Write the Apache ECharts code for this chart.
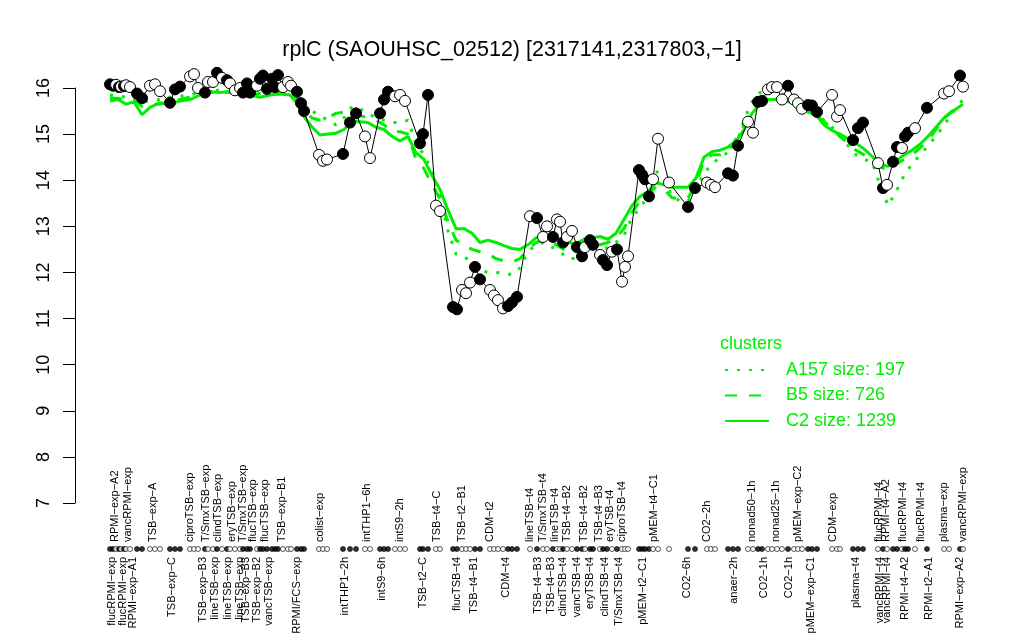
<!DOCTYPE html>
<html><head><meta charset="utf-8">
<script src="https://cdn.jsdelivr.net/npm/echarts@6/dist/echarts.min.js"></script>
<style>html,body{margin:0;padding:0;background:#fff}#c{width:1024px;height:640px}</style>
</head><body><div id="c"></div>
<script>
const titleText = 'rplC (SAOUHSC_02512) [2317141,2317803,\u22121]';
const yMin = 7, yMax = 16;

// sample positions along the condition axis, expression values, filled(1)/open(0) markers
const samplePos = [0,0.6,1.2,1.8,2.2,2.8,3.2,4,5.4,6.4, 8,9,10, 12,13,14, 16,16.8,17.6,
  19,19.6,20.6,21.4,22.4,23.4,24,25,26,26.6,27.4,28,29.4,30,30.6,31.4,32.4,33,33.6,34.6,35.6,36.2,
  37.4,38.2,38.8, 41.8,42.6,43.4, 46.6,48,49.2, 51,52, 54,54.8,55.6, 57,58,59, 62,62.6,63.6, 65.2,66,
  68.6,69.4, 70.4,71.2,72, 73,74, 76,76.8,77.6,78.6, 79.6,80.4,81.4, 84,
  85.4,86.6,87.4,88.6,89.4,90,90.6,91.4,92.4,93.4,94.4,95,96,96.6,98,98.6,99.4,100.4,101.4,102.4,103,103.6,
  105.8,106.4,107,107.8, 108.6,109.6, 111.8, 115.6,117, 119.4,120.2,121, 123.6,124.6,125.6, 127.6,128.6,
  129.6,130.4, 131.6,132.4,133.4,134.4, 135.6, 136.8,137.6,138.4, 139.6,140.4,141.4, 144.4,145.4,146,
  148.6,149.6,150.6, 153.6,154.6,155.4,156.6,157.4,158.4,159,159.6,161, 163.4, 166.8,167.8, 170,170.6];
const sampleValue = [16.08,16.05,16.07,16.02,16.03,16.04,16.06,16.02,15.88,15.78, 16.05,16.08,15.93, 15.68,15.97,16.03, 16.25,16.3,16.0,
  15.9,16.13,16.13,16.33,16.22,16.17,16.1,15.95,16.0,15.9,16.1,15.9,16.05,16.2,16.27,15.98,16.2,16.02,16.28,16.02,16.13,16.05,
  15.92,15.67,15.5, 14.55,14.42,14.45, 14.57,15.25,15.45, 14.95,14.48, 15.45,15.75,15.92, 15.82,15.85,15.72, 14.8,15.0,15.85, 13.45,13.33,
  11.25,11.2, 11.62,11.55,11.78, 12.12,11.85, 11.62,11.5,11.4,11.22, 11.27,11.35,11.47, 13.22,
  13.18,12.77,13.0,12.77,13.15,13.1,12.65,12.77,12.9,12.55,12.35,12.55,12.7,12.6,12.38,12.27,12.16,12.45,12.5,11.8,12.12,12.35,
  14.22,14.12,14.02,13.65, 14.02,14.9, 13.95, 13.42,13.83, 13.95,13.9,13.85, 14.15,14.1,14.75, 15.27,15.03,
  15.7,15.72, 15.97,16.02,16.02,15.75, 16.05, 15.75,15.67,15.55, 15.63,15.62,15.48, 15.85,15.38,15.52,
  14.87,15.13,15.25, 14.37,13.83,13.9,14.4,14.72,14.7,14.95,15.03,15.13, 15.57, 15.88,15.93, 16.27,16.03];
const sampleFilled = [1,1,0,1,0,1,0,0,1,1, 0,0,0, 1,1,1, 0,0,0,
  1,0,0,1,0,1,0,0,0,1,1,1,0,1,1,1,1,1,1,0,0,0,
  1,1,1, 0,0,0, 1,1,1, 0,0, 1,1,1, 0,0,0, 1,1,1, 0,0,
  1,1, 0,0,0, 1,1, 0,0,0,0, 1,1,1, 0,
  1,0,0,1,0,0,1,0,0,1,1,0,1,1,0,1,1,0,1,0,0,0,
  1,1,1,1, 0,0, 0, 1,1, 0,0,0, 1,1,1, 0,0,
  1,1, 0,0,0,0, 1, 0,0,0, 1,1,1, 0,0,0,
  1,1,1, 0,1,0,1,1,0,1,1,0, 1, 0,0, 1,0];

// condition labels above and below the rug
const labelTopPos = [1,3.6,8.6,16,19.2,21.6,24.4,26.6,28.6,31,34.4,42,51.4,58,65.4,70.4,76,84,86.6,89,
  91.4,94.8,97.8,100,102.4,108.8,119.4,128.4,133.2,137.6,144.6,153.8,155.2,158.6,162.2,166.8,170.6];
const labelTopText = ['RPMI-exp-A2','vancRPMI-exp','TSB-exp-A','ciproTSB-exp','T/SmxTSB-exp','clindTSB-exp','eryTSB-exp',
  'T/SmxTSB-exp','flucTSB-exp','flucTSB-exp','TSB-exp-B1','colist-exp','intTHP1-6h','intS9-2h','TSB-t4-C','TSB-t2-B1',
  'CDM-t2','lineTSB-t4','T/SmxTSB-t4','lineTSB-t4','TSB-t4-B2','TSB-t4-B2','TSB-t4-B3','eryTSB-t4','ciproTSB-t4',
  'pMEM-t4-C1','CO2-2h','nonad50-1h','nonad25-1h','pMEM-exp-C2','CDM-exp','flucRPMI-t4','RPMI-t4-A2','flucRPMI-t4',
  'flucRPMI-t4','plasma-exp','vancRPMI-exp'];
const labelBottomPos = [0.4,2.6,4.6,12.4,18.6,21,23.6,26,27.2,29.4,31.8,37.4,47,54.4,62.6,69.4,72.8,79.2,85.6,88.2,
  90.6,93.4,96,99,101.8,106.6,115.4,124.8,130.8,135.8,140.2,149.2,154,155.4,159,163.8,170];
const labelBottomText = ['flucRPMI-exp','flucRPMI-exp','RPMI-exp-A1','TSB-exp-C','TSB-exp-B3','lineTSB-exp','lineTSB-exp',
  'lineTSB-exp','TSB-exp-B3','TSB-exp-B2','vancTSB-exp','RPMI/FCS-exp','intTHP1-2h','intS9-6h','TSB-t2-C','flucTSB-t4',
  'TSB-t4-B1','CDM-t4','TSB-t4-B3','TSB-t4-B3','clindTSB-t4','vancTSB-t4','eryTSB-t4','clindTSB-t4','T/SmxTSB-t4',
  'pMEM-t2-C1','CO2-6h','anaer-2h','CO2-1h','CO2-1h','pMEM-exp-C1','plasma-t4','vancRPMI-t4','vancRPMI-t4',
  'RPMI-t4-A2','RPMI-t2-A1','RPMI-exp-A2'];

// cluster mean profiles
const clusterPos = [0,1.6,3.2,4.8,6.4, 8,10,12,14,16,18,20,22,24,26,28,30,32,34,36,
  37.6,39,40.4,42,43.6,45.2,46.8,48.4,50,51.6, 53.2,54.8,56.4,58,59.6,61.2,62.8,64.4,66,67.6,
  69.2,70.8,72.4,74,75.6,77.2,78.8,80.4,82,83.6, 85.2,86.8,88.4,90,91.6,93.2,94.8,96.4,98,99.6,
  101.2,102.8,104.4,106,107.6,109.2,110.8,112.4,114,115.6, 117.2,118.8,120.4,122,123.6,125.2,126.8,128.4,130,131.6,
  133.2,134.8,136.4,138,139.6,141.2,142.8,144.4,146,147.6, 149.2,150.8,152.4,154,155.6,157.2,158.8,160.4,162,163.6,
  165.2,166.8,168.4,170.6];
const clusterA157 = [15.85,15.82,15.8,15.78,15.7, 15.72,15.75,15.8,15.82,15.85,15.9,15.95,15.95,15.92,15.95,15.9,15.92,15.95,15.98,16.0,
  15.85,15.65,15.5,15.4,15.3,15.2,15.35,15.6,15.55,15.45, 15.35,15.3,15.25,15.25,15.3,14.8,14.55,14.2,13.7,12.9,
  12.4,12.35,12.2,12.05,12.0,12.0,11.98,11.95,12.1,12.45, 12.6,12.65,12.55,12.45,12.3,12.3,12.35,12.35,12.45,12.55,
  12.65,12.8,13.2,13.4,13.65,14.2,14.05,13.65,13.55,13.55, 13.8,14.15,14.35,14.5,14.6,14.75,15.3,15.7,15.9,15.95,
  15.92,15.85,15.8,15.65,15.55,15.45,15.3,15.15,14.95,14.75, 14.55,14.45,14.4,13.9,13.45,13.75,14.1,14.35,14.55,14.75,
  14.95,15.2,15.45,15.75];
const clusterB5 = [15.78,15.78,15.72,15.75,15.6, 15.65,15.65,15.7,15.75,15.8,15.82,15.9,15.92,15.9,15.88,15.85,15.88,15.9,15.9,15.9,
  15.75,15.5,15.35,15.3,15.35,15.45,15.48,15.5,15.4,15.35, 15.3,15.2,15.05,15.05,15.0,14.45,14.25,13.9,13.6,13.1,
  12.7,12.6,12.5,12.45,12.4,12.3,12.25,12.22,12.3,12.5, 12.65,12.7,12.65,12.55,12.45,12.5,12.55,12.6,12.6,12.65,
  12.75,12.95,13.3,13.55,13.7,13.85,13.8,13.62,13.6,13.62, 13.9,14.45,14.55,14.55,14.6,14.9,15.2,15.5,15.7,15.78,
  15.78,15.75,15.7,15.65,15.5,15.4,15.28,15.1,14.95,14.8, 14.65,14.55,14.45,14.3,14.2,14.35,14.45,14.55,14.7,14.85,
  15.1,15.35,15.5,15.6];
const clusterC2 = [15.72,15.75,15.65,15.7,15.42, 15.58,15.68,15.65,15.72,15.75,15.85,15.92,15.9,15.93,15.9,15.85,15.8,15.85,15.87,15.85,
  15.65,15.35,15.15,14.98,15.0,15.02,15.1,15.28,15.27,15.25, 15.15,15.1,14.95,14.85,14.95,14.6,14.45,14.1,13.8,13.35,
  12.95,12.95,12.85,12.65,12.7,12.65,12.58,12.52,12.5,12.6, 12.75,12.8,12.75,12.72,12.65,12.62,12.72,12.75,12.78,12.72,
  12.85,13.15,13.45,13.65,13.75,13.95,13.9,13.85,13.85,13.85, 14.05,14.5,14.62,14.65,14.72,14.85,15.1,15.45,15.65,15.75,
  15.75,15.72,15.68,15.6,15.48,15.42,15.2,15.08,15.0,14.9, 14.8,14.68,14.52,14.35,14.3,14.42,14.55,14.65,14.78,14.95,
  15.15,15.35,15.48,15.65];
const clusterNames = ['A157 size: 197', 'B5 size: 726', 'C2 size: 1239'];
const legendTitle = 'clusters';

const GREEN = '#00ee00';
const FONT = '"Liberation Sans", Arial, Helvetica, sans-serif';
const posMin = -7, posMax = 170.6;

function nameAt(posArr, textArr) {
  return function (v) {
    let best = -1, bd = 1e9;
    for (let i = 0; i < posArr.length; i++) { const d = Math.abs(posArr[i] - v); if (d < bd) { bd = d; best = i; } }
    return best >= 0 && bd < 1e-6 ? textArr[best].replace(/-/g, '\u2212') : '';
  };
}
const zip = (a, b) => a.map((x, i) => [x, b[i]]);

const chart = echarts.init(document.getElementById('c'), null, { renderer: 'canvas' });
const mainData = samplePos.map((x, i) => ({
  value: [x, sampleValue[i]],
  itemStyle: { color: sampleFilled[i] ? '#000' : '#fff' }
}));
const rugData = samplePos.map((x, i) => ({
  value: [x, 0.5],
  itemStyle: { color: sampleFilled[i] ? '#000' : '#fff' }
}));

chart.setOption({
  animation: false,
  backgroundColor: '#fff',
  textStyle: { fontFamily: FONT },
  title: [
    { text: titleText, left: 'center', top: 34, textStyle: { fontFamily: FONT, fontSize: 21.5, fontWeight: 'normal', color: '#000' } },
    { text: legendTitle, left: 715, top: 330, textStyle: { fontFamily: FONT, fontSize: 18, fontWeight: 'normal', color: GREEN } }
  ],
  legend: {
    orient: 'vertical', left: 719, top: 356, itemWidth: 44, itemHeight: 18, itemGap: 7.5,
    data: clusterNames,
    itemStyle: { color: 'rgba(0,0,0,0)', borderColor: 'rgba(0,0,0,0)', borderWidth: 0 },
    textStyle: { fontFamily: FONT, fontSize: 18, color: GREEN, padding: [0, 0, 0, 12] },
    selectedMode: false
  },
  grid: [
    { left: 75, width: 888, top: 88, height: 415 },
    { left: 75, width: 888, top: 545, height: 8 }
  ],
  xAxis: [
    { gridIndex: 0, type: 'value', min: posMin, max: posMax, show: false },
    { gridIndex: 1, type: 'value', position: 'top', min: posMin, max: posMax,
      axisLine: { show: false }, axisTick: { show: false }, splitLine: { show: false },
      axisLabel: { customValues: labelTopPos, rotate: 90, margin: 3, fontSize: 11, color: '#000', fontFamily: FONT,
        formatter: nameAt(labelTopPos, labelTopText) } },
    { gridIndex: 1, type: 'value', position: 'bottom', min: posMin, max: posMax,
      axisLine: { show: false }, axisTick: { show: false }, splitLine: { show: false },
      axisLabel: { customValues: labelBottomPos, rotate: 90, margin: 4, fontSize: 11, color: '#000', fontFamily: FONT,
        formatter: nameAt(labelBottomPos, labelBottomText) } }
  ],
  yAxis: [
    { gridIndex: 0, type: 'value', min: yMin, max: yMax, interval: 1, position: 'left',
      axisLine: { show: true, onZero: false, lineStyle: { color: '#000', width: 1 } },
      axisTick: { show: true, length: 12, lineStyle: { color: '#000' } },
      splitLine: { show: false },
      axisLabel: { rotate: 90, margin: 22, fontSize: 18, color: '#000', fontFamily: FONT } },
    { gridIndex: 1, type: 'value', min: 0, max: 1, show: false }
  ],
  series: [
    { name: clusterNames[0], type: 'line', xAxisIndex: 0, yAxisIndex: 0, data: zip(clusterPos, clusterA157),
      symbol: 'none', clip: false, color: GREEN, lineStyle: { color: GREEN, width: 3, type: [3, 9] }, z: 1 },
    { name: clusterNames[1], type: 'line', xAxisIndex: 0, yAxisIndex: 0, data: zip(clusterPos, clusterB5),
      symbol: 'none', clip: false, color: GREEN, lineStyle: { color: GREEN, width: 3, type: [12, 12] }, z: 1 },
    { name: clusterNames[2], type: 'line', xAxisIndex: 0, yAxisIndex: 0, data: zip(clusterPos, clusterC2),
      symbol: 'none', clip: false, color: GREEN, lineStyle: { color: GREEN, width: 3 }, z: 1 },
    { name: 'expression', type: 'line', xAxisIndex: 0, yAxisIndex: 0, data: mainData,
      symbol: 'circle', symbolSize: 11, showAllSymbol: true, clip: false,
      lineStyle: { color: '#000', width: 1 },
      itemStyle: { borderColor: '#000', borderWidth: 1 }, z: 3 },
    { name: 'rug', type: 'scatter', xAxisIndex: 1, yAxisIndex: 1, data: rugData,
      symbol: 'circle', symbolSize: 5, clip: false,
      itemStyle: { borderColor: '#000', borderWidth: 0.8 }, z: 3 }
  ]
});
</script>
</body></html>
